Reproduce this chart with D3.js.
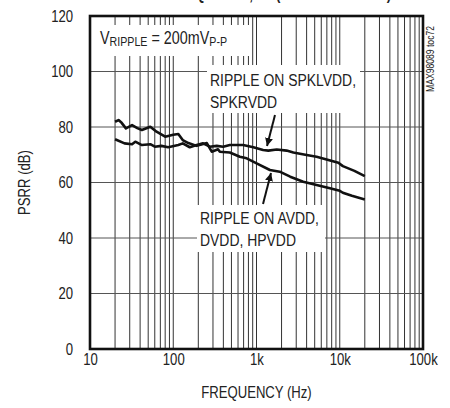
<!DOCTYPE html>
<html>
<head>
<meta charset="utf-8">
<script src="https://cdn.jsdelivr.net/npm/d3@7"></script>
<style>
  html, body { margin: 0; padding: 0; background: #fff; }
  svg { display: block; }
  text { font-family: "Liberation Sans Narrow", "Arial Narrow", "Liberation Sans", Arial, sans-serif; fill: #222; }
</style>
</head>
<body>
<svg id="chart" width="450" height="408"></svg>
<script>
// ---- data ----
const yTicks = [0, 20, 40, 60, 80, 100, 120];
const xTickValues = [10, 100, 1000, 10000, 100000];
const xTickLabels = ["10", "100", "1k", "10k", "100k"];

const spkFreq = [20, 26, 32, 35, 42, 53, 60, 72, 87, 115, 130, 158, 191, 228, 275, 333, 398, 478, 690, 917, 1200, 1385, 1750, 2300, 2770, 4000, 5270, 6950, 9630, 10900, 15000, 20000];
const spkPsrr = [75.6, 74.1, 73.8, 74.7, 73.5, 73.8, 72.9, 73.2, 72.7, 73.5, 74.1, 72.7, 73.5, 74.1, 72.9, 73.2, 72.9, 73.5, 73.5, 72.7, 71.7, 71.5, 71.9, 71.5, 70.8, 69.9, 69.3, 68.3, 67.1, 65.9, 64.2, 62.3];

const avddFreq = [20, 22, 24, 27, 32, 37, 42, 53, 63, 80, 100, 115, 130, 152, 191, 253, 290, 345, 363, 478, 630, 762, 1003, 1450, 1900, 2540, 3640, 5270, 7620, 10000, 10900, 14000, 20000];
const avddPsrr = [81.9, 82.5, 81.5, 79.5, 80.7, 79.6, 78.9, 80.1, 78.3, 76.5, 77.2, 77.5, 75.3, 74.2, 73.2, 74.2, 71.1, 72.0, 71.1, 70.8, 69.3, 68.7, 66.9, 64.5, 63.9, 62.1, 60.3, 59.1, 57.9, 57.0, 56.3, 55.2, 53.9];

const labelSpk = ["RIPPLE ON SPKLVDD,", "SPKRVDD"];
const labelAvdd = ["RIPPLE ON AVDD,", "DVDD, HPVDD"];
const legendParts = [["V", 17.5, 0], ["RIPPLE", 13, 2], [" = 200mV", 17.5, 0], ["P-P", 13, 2]];

// ---- layout ----
const svg = d3.select("#chart");
const L = 90, R = 423, T = 16, B = 349;
const SQUEEZE = 0.82; // narrow typeface imitation

const x = d3.scaleLog().domain([10, 100000]).range([L, R]);
const y = d3.scaleLinear().domain([0, 120]).range([B, T]);

// condense a text element horizontally about its anchor point
function squeeze(sel) {
  sel.each(function () {
    const t = d3.select(this);
    const tr = t.attr("transform");
    if (tr) {
      t.attr("transform", tr + ` scale(${SQUEEZE},1)`);
    } else {
      const ax = +(t.attr("x") || 0);
      t.attr("transform", `translate(${ax},0) scale(${SQUEEZE},1) translate(${-ax},0)`);
    }
  });
}

// partial title (clipped at the top in the reference)
const title1 = svg.append("text").attr("x", 253).attr("y", 0).attr("text-anchor", "end")
  .style("font-size", "16px").style("font-weight", "bold")
  .text("POWER-SUPPLY REJECTION RATIO vs. FREQUENCY,");
const title2 = svg.append("text").attr("x", 276).attr("y", 0)
  .style("font-size", "16px").style("font-weight", "bold")
  .text("(SPEAKER MODE)");
squeeze(title1); squeeze(title2);

// grid
const grid = svg.append("g");
grid.selectAll("line.v").data(x.ticks()).enter().append("line")
  .attr("x1", d => x(d)).attr("x2", d => x(d))
  .attr("y1", T).attr("y2", B)
  .attr("stroke", "#333").attr("stroke-width", 1);
grid.selectAll("line.h").data(yTicks.slice(1, -1)).enter().append("line")
  .attr("x1", L).attr("x2", R)
  .attr("y1", d => y(d)).attr("y2", d => y(d))
  .attr("stroke", "#555").attr("stroke-width", 1);

// white boxes behind labels
function box(x0, y0, x1, y1) {
  svg.append("rect").attr("x", x0).attr("y", y0)
    .attr("width", x1 - x0).attr("height", y1 - y0).attr("fill", "#fff");
}
box(L, 25, 252, 56);
box(207, 65, 360, 113);
box(197, 205, 325, 252);

// curves
const line = d3.line().x(d => x(d[0])).y(d => y(d[1]));
svg.append("path").datum(spkFreq.map((f, i) => [f, spkPsrr[i]]))
  .attr("d", line).attr("fill", "none").attr("stroke", "#111")
  .attr("stroke-width", 2.6).attr("stroke-linejoin", "round");
svg.append("path").datum(avddFreq.map((f, i) => [f, avddPsrr[i]]))
  .attr("d", line).attr("fill", "none").attr("stroke", "#111")
  .attr("stroke-width", 2.6).attr("stroke-linejoin", "round");

// frame
svg.append("rect").attr("x", L).attr("y", T).attr("width", R - L).attr("height", B - T)
  .attr("fill", "none").attr("stroke", "#111").attr("stroke-width", 2.6);

// y axis labels
const yAxis = d3.axisLeft(y).tickValues(yTicks).tickSize(0).tickPadding(17);
const gy = svg.append("g").attr("transform", `translate(${L},0)`).call(yAxis);
gy.select(".domain").remove();
gy.selectAll("text").style("font-size", "16px").style("font-family", null).attr("fill", "#222");
squeeze(gy.selectAll("text"));

// x axis labels
const xAxis = d3.axisBottom(x).tickValues(xTickValues)
  .tickFormat((d, i) => xTickLabels[i]).tickSize(0).tickPadding(5);
const gx = svg.append("g").attr("transform", `translate(0,${B})`).call(xAxis);
gx.select(".domain").remove();
gx.selectAll("text").style("font-size", "16px").style("font-family", null).attr("fill", "#222");
squeeze(gx.selectAll("text"));

// axis titles
squeeze(svg.append("text").attr("x", (L + R) / 2).attr("y", 398).attr("text-anchor", "middle")
  .style("font-size", "16px").text("FREQUENCY (Hz)"));
squeeze(svg.append("text").attr("transform", `translate(30,${(T + B) / 2}) rotate(-90)`)
  .attr("text-anchor", "middle").style("font-size", "16px").text("PSRR (dB)"));

// side code
squeeze(svg.append("text").attr("transform", "translate(434,59) rotate(-90)")
  .attr("text-anchor", "middle").style("font-size", "10.5px").text("MAX98089 toc72"));

// legend text, built piece by piece
let lx = 100;
legendParts.forEach(([s, fs, dy]) => {
  const t = svg.append("text").attr("x", lx).attr("y", 44 + dy)
    .style("font-size", fs + "px").style("white-space", "pre").attr("xml:space", "preserve").text(s);
  const w = t.node().getComputedTextLength() * SQUEEZE;
  squeeze(t);
  lx += w;
});

// annotations
function annot(lines, x0, y0) {
  lines.forEach((s, i) => {
    squeeze(svg.append("text").attr("x", x0).attr("y", y0 + i * 22)
      .style("font-size", "17px").text(s));
  });
}
annot(labelSpk, 210, 86);
annot(labelAvdd, 200, 224);

// arrows
svg.append("defs").append("marker").attr("id", "ah")
  .attr("viewBox", "0 0 10 10").attr("refX", 10).attr("refY", 5)
  .attr("markerWidth", 4).attr("markerHeight", 5).attr("markerUnits", "strokeWidth")
  .attr("orient", "auto")
  .append("path").attr("d", "M0,0 L10,5 L0,10 Z").attr("fill", "#111");
function arrow(x1, y1, x2, y2) {
  svg.append("line").attr("x1", x1).attr("y1", y1).attr("x2", x2).attr("y2", y2)
    .attr("stroke", "#111").attr("stroke-width", 2).attr("marker-end", "url(#ah)");
}
arrow(275, 115, 267, 146);
arrow(263, 204, 271, 173);
</script>
</body>
</html>
